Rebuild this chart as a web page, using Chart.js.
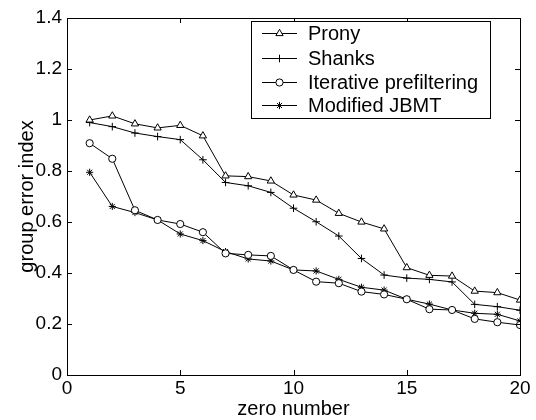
<!DOCTYPE html>
<html><head><meta charset="utf-8">
<script src="https://cdn.jsdelivr.net/npm/chart.js@4/dist/chart.umd.min.js"></script>
<style>html,body{margin:0;padding:0;background:#fff}#wrap{width:536px;height:420px}</style>
</head><body><div id="wrap"><canvas id="c" width="536" height="420"></canvas></div>
<script>
const zeroNumbers = [1,2,3,4,5,6,7,8,9,10,11,12,13,14,15,16,17,18,19,20];
const prony = [1.0,1.016,0.985,0.969,0.979,0.938,0.781,0.778,0.761,0.706,0.686,0.634,0.600,0.573,0.421,0.391,0.388,0.329,0.323,0.294];
const shanks = [0.99,0.974,0.949,0.935,0.923,0.844,0.755,0.742,0.716,0.654,0.601,0.545,0.457,0.392,0.380,0.375,0.365,0.277,0.268,0.254];
const iterative = [0.909,0.848,0.646,0.608,0.592,0.560,0.477,0.471,0.467,0.412,0.366,0.360,0.327,0.316,0.297,0.258,0.255,0.220,0.207,0.196];
const jbmt = [0.795,0.661,0.637,0.608,0.553,0.527,0.484,0.455,0.447,0.412,0.408,0.375,0.344,0.333,0.297,0.278,0.255,0.242,0.238,0.212];
const seriesLabels = ['Prony','Shanks','Iterative prefiltering','Modified JBMT'];
const xTicks = [0,5,10,15,20];
const yTicks = [0,0.2,0.4,0.6,0.8,1,1.2,1.4];

const FONT = 'Liberation Sans, Arial, Helvetica, sans-serif';
function mk(label, data, style, radius){
  return {label, data: zeroNumbers.map((x,i)=>({x, y:data[i]})),
    borderColor:'#000', backgroundColor:'#fff', borderWidth:1,
    pointStyle:style, pointRadius:radius, pointBorderColor:'#000', pointBackgroundColor:'#fff',
    pointBorderWidth:1, tension:0, fill:false};
}
const datasets = [
  mk(seriesLabels[0], prony, 'triangle', 4.2),
  mk(seriesLabels[1], shanks, 'cross', 3.8),
  mk(seriesLabels[2], iterative, 'circle', 3.6),
  mk(seriesLabels[3], jbmt, 'star', 3.6),
];

const boxPlugin = {
  id:'box',
  afterDraw(chart){
    const {ctx, chartArea:a, scales:{x,y}} = chart;
    ctx.save();
    ctx.strokeStyle='#000'; ctx.lineWidth=1;
    ctx.strokeRect(Math.round(a.left)+0.5, Math.round(a.top)+0.5, Math.round(a.right-a.left), Math.round(a.bottom-a.top));
    const L=5;
    ctx.beginPath();
    xTicks.forEach(v=>{ const px=Math.round(x.getPixelForValue(v))+0.5;
      ctx.moveTo(px,a.bottom); ctx.lineTo(px,a.bottom-L);
      ctx.moveTo(px,a.top); ctx.lineTo(px,a.top+L); });
    yTicks.forEach(v=>{ const py=Math.round(y.getPixelForValue(v))+0.5;
      ctx.moveTo(a.left,py); ctx.lineTo(a.left+L,py);
      ctx.moveTo(a.right,py); ctx.lineTo(a.right-L,py); });
    ctx.stroke();
    // legend
    const lx=251, ly=21, lw=239, lh=97;
    ctx.fillStyle='#fff'; ctx.fillRect(lx,ly,lw,lh);
    ctx.strokeRect(lx+0.5,ly+0.5,lw,lh);
    ctx.font='20px '+FONT; ctx.textBaseline='middle'; ctx.textAlign='left';
    const rows=[33,58,82,105];
    chart.data.datasets.forEach((ds,i)=>{
      const cy=rows[i];
      ctx.beginPath(); ctx.strokeStyle='#000'; ctx.lineWidth=1;
      ctx.moveTo(262,cy+0.5); ctx.lineTo(297,cy+0.5); ctx.stroke();
      if (Chart.helpers && Chart.helpers.drawPoint){
        ctx.fillStyle='#fff'; ctx.strokeStyle='#000';
        Chart.helpers.drawPoint(ctx,{pointStyle:ds.pointStyle, radius:ds.pointRadius, borderWidth:1, rotation:0}, 279.5, cy+0.5);
      }
      ctx.fillStyle='#000';
      ctx.fillText(ds.label, 308, cy+1);
    });
    ctx.restore();
  }
};

new Chart(document.getElementById('c'), {
  type:'line',
  data:{datasets},
  options:{
    responsive:false, animation:false, devicePixelRatio:1,
    layout:{padding:{left:0,right:16,top:18,bottom:0}},
    plugins:{legend:{display:false}, tooltip:{enabled:false}},
    scales:{
      x:{type:'linear', min:0, max:20,
        afterBuildTicks(s){ s.ticks = xTicks.map(v=>({value:v})); },
        afterFit(s){ s.height=45; },
        grid:{display:false, drawTicks:false}, border:{display:false},
        ticks:{color:'#000', font:{family:FONT,size:19}, padding:2, maxRotation:0},
        title:{display:true, text:'zero number', color:'#000', font:{family:FONT,size:20}, padding:{top:0,bottom:-1}}
      },
      y:{type:'linear', min:0, max:1.4,
        afterBuildTicks(s){ s.ticks = yTicks.map(v=>({value:v})); },
        afterFit(s){ s.width=67; },
        grid:{display:false, drawTicks:false}, border:{display:false},
        ticks:{color:'#000', font:{family:FONT,size:19}, padding:5, callback:v=>String(Math.round(v*10)/10)},
        title:{display:true, text:'group error index', color:'#000', font:{family:FONT,size:20}, padding:{top:15,bottom:0}}
      }
    }
  },
  plugins:[boxPlugin]
});
</script></body></html>
